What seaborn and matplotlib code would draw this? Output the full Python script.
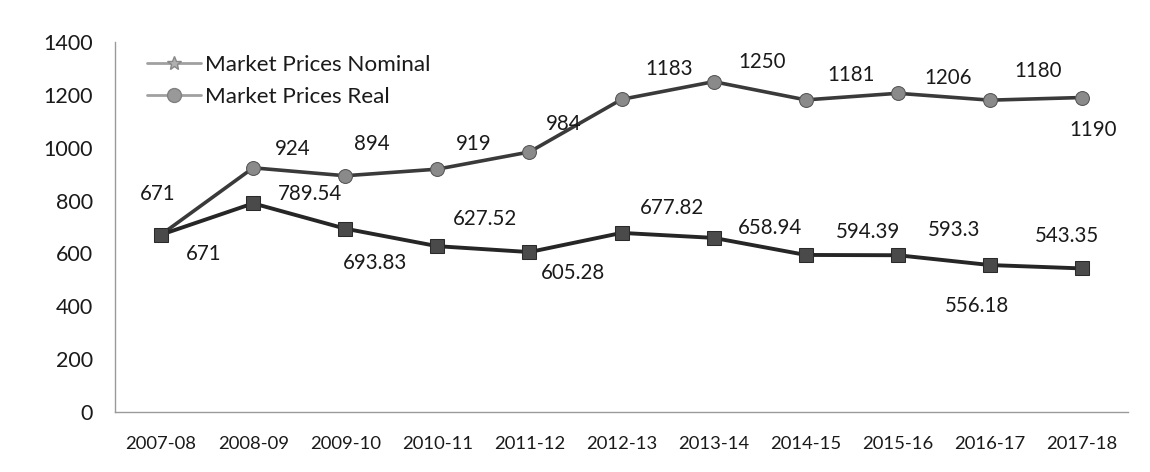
import pandas as pd
import matplotlib
matplotlib.use("Agg")
import matplotlib.pyplot as plt
from matplotlib.lines import Line2D
import seaborn as sns

# data
years = ['2007-08', '2008-09', '2009-10', '2010-11', '2011-12', '2012-13',
         '2013-14', '2014-15', '2015-16', '2016-17', '2017-18']
nominal = [671, 924, 894, 919, 984, 1183, 1250, 1181, 1206, 1180, 1190]
real = [671, 789.54, 693.83, 627.52, 605.28, 677.82, 658.94, 594.39, 593.3, 556.18, 543.35]

nominal_lbl = ['671', '924', '894', '919', '984', '1183', '1250', '1181', '1206', '1180', '1190']
real_lbl = ['671', '789.54', '693.83', '627.52', '605.28', '677.82', '658.94', '594.39', '593.3', '556.18', '543.35']

# label offsets in px (dx, dy), dy positive = up
nom_off = [(-3, 41), (40, 19), (27, 32), (36, 25), (34, 28), (48, 30),
           (48, 20), (45, 25), (50, 15), (48, 29), (11, -32)]
real_off = [(43, -19), (57, 9), (30, -34), (48, 27), (44, -21), (50, 25),
            (56, 10), (62, 23), (56, 25), (-13, -41), (-15, 32)]

df = pd.DataFrame({'year': years * 2,
                   'price': nominal + real,
                   'series': ['Market Prices Nominal'] * len(years) + ['Market Prices Real'] * len(years)})

sns.set_style('white')
plt.rcParams['font.family'] = ['Lato', 'DejaVu Sans']
txt_col = '#1a1a1a'

fig = plt.figure(figsize=(11.5, 4.72), dpi=100)
ax = fig.add_axes([0.1, 0.127, 0.881, 0.784])

sns.lineplot(data=df[df.series == 'Market Prices Nominal'], x='year', y='price',
             color='#3a3a3a', lw=2.6, marker='o', markersize=10,
             markerfacecolor='#8a8a8a', markeredgecolor='#555555', ax=ax, legend=False)
sns.lineplot(data=df[df.series == 'Market Prices Real'], x='year', y='price',
             color='#262626', lw=2.8, marker='s', markersize=10,
             markerfacecolor='#4a4a4a', markeredgecolor='#2a2a2a', ax=ax, legend=False)

px = 0.72  # px -> points
for i, (v, t, (dx, dy)) in enumerate(zip(nominal, nominal_lbl, nom_off)):
    ax.annotate(t, (i, v), xytext=(dx * px, dy * px), textcoords='offset points',
                ha='center', va='center', fontsize=14.8, color=txt_col)
for i, (v, t, (dx, dy)) in enumerate(zip(real, real_lbl, real_off)):
    ax.annotate(t, (i, v), xytext=(dx * px, dy * px), textcoords='offset points',
                ha='center', va='center', fontsize=14.8, color=txt_col)

ax.set_xlim(-0.5, len(years) - 0.5)
ax.set_ylim(0, 1400)
ax.set_yticks(range(0, 1401, 200))
ax.set_xlabel('')
ax.set_ylabel('')

for s in ['top', 'right']:
    ax.spines[s].set_visible(False)
for s in ['left', 'bottom']:
    ax.spines[s].set_color('#9a9a9a')
    ax.spines[s].set_linewidth(1.0)

ax.tick_params(axis='y', length=8, width=1, color='#9a9a9a', direction='out', pad=8,
               labelsize=15.5, labelcolor=txt_col)
ax.tick_params(axis='x', which='major', length=0, pad=17, labelsize=13.3, labelcolor=txt_col)
ax.set_xticks([i + 0.5 for i in range(len(years))], minor=True)
ax.tick_params(axis='x', which='minor', length=5, width=1, color='#9a9a9a', direction='out')

handles = [Line2D([0], [0], color='#a0a0a0', lw=2, marker='*', markersize=10,
                  markerfacecolor='#b0b0b0', markeredgecolor='#888888'),
           Line2D([0], [0], color='#a0a0a0', lw=2, marker='o', markersize=10,
                  markerfacecolor='#999999', markeredgecolor='#808080')]
ax.legend(handles, ['Market Prices Nominal', 'Market Prices Real'], loc='upper left',
          bbox_to_anchor=(0.012, 1.02), frameon=False, fontsize=16.2, labelspacing=0.55,
          handlelength=2.4, handletextpad=0.15, labelcolor=txt_col)

plt.savefig('out.png', dpi=100)
